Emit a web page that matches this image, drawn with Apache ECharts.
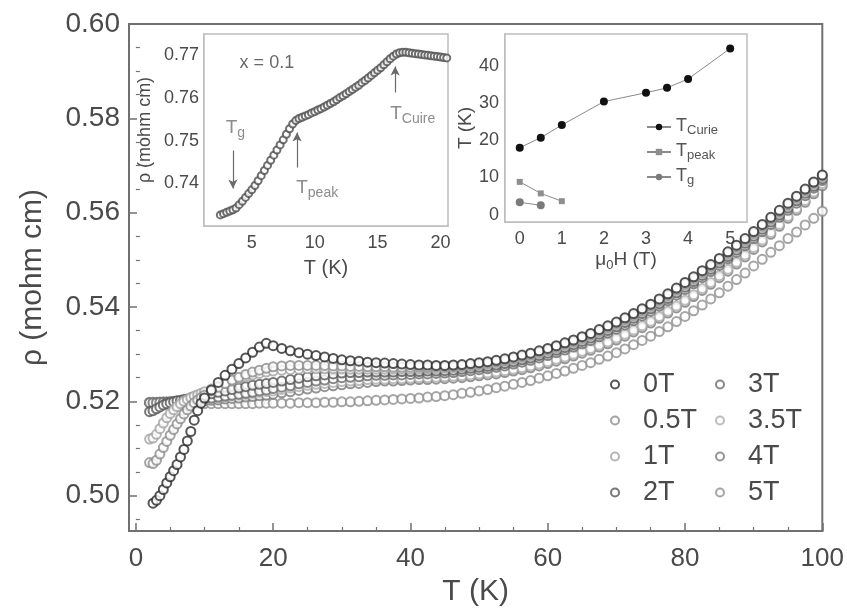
<!DOCTYPE html>
<html>
<head>
<meta charset="utf-8">
<script src="https://cdn.jsdelivr.net/npm/echarts@6/dist/echarts.min.js"></script>
<style>
  html, body { margin: 0; padding: 0; background: #fff; }
  #chart { width: 847px; height: 612px; }
</style>
</head>
<body>
<div id="chart"></div>
<script>
// Resistivity vs temperature at several applied fields
const TEMPS = [
  2, 2.5, 3, 3.5, 4, 4.5, 5, 5.5, 6, 6.5, 7, 7.5, 8, 8.5, 9, 9.5, 10,
  11, 12, 13, 14, 15, 16, 17, 18, 19, 20,
  21.25, 22.5, 23.75, 25, 26.25, 27.5, 28.75, 30, 31.25, 32.5, 33.75, 35, 36.25, 37.5, 38.75, 40,
  41.25, 42.5, 43.75, 45, 46.25, 47.5, 48.75, 50, 51.25, 52.5, 53.75, 55, 56.25, 57.5, 58.75, 60,
  61.25, 62.5, 63.75, 65, 66.25, 67.5, 68.75, 70, 71.25, 72.5, 73.75, 75, 76.25, 77.5, 78.75, 80,
  81.25, 82.5, 83.75, 85, 86.25, 87.5, 88.75, 90, 91.25, 92.5, 93.75, 95, 96.25, 97.5, 98.75, 100
];

const RHO_0T = [
  null, .4984, .4990, .5000, .5013, .5027, .5040, .5053, .5066, .5082, .5098, .5116, .5136, .5160, .5180, .5196, .5207,
  .5224, .5240, .5255, .5268, .5280, .5292, .5304, .5315, .5323, .5318,
  .5312, .5307, .5303, .5300, .5297, .5294, .5291, .5288, .5286, .5285, .5283, .5282, .5281, .5280, .5279, .5278,
  .5277, .5277, .5276, .5276, .5277, .5278, .5280, .5282, .5284, .5287, .5290, .5294, .5298, .5302, .5307, .5312,
  .5318, .5324, .5330, .5337, .5344, .5352, .5360, .5368, .5377, .5386, .5396, .5406, .5417, .5428, .5440, .5452,
  .5464, .5477, .5490, .5503, .5517, .5531, .5545, .5560, .5575, .5590, .5605, .5620, .5635, .5650, .5665, .5680
];
const RHO_05T = [
  .5070, .5068, .5075, .5088, .5102, .5115, .5128, .5140, .5152, .5163, .5173, .5182, .5190, .5197, .5203, .5208, .5213,
  .5222, .5230, .5238, .5245, .5251, .5257, .5262, .5266, .5270, .5273,
  .5275, .5276, .5276, .5276, .5276, .5276, .5275, .5275, .5274, .5274, .5273, .5273, .5273, .5272, .5272, .5272,
  .5272, .5272, .5273, .5273, .5274, .5275, .5277, .5279, .5281, .5284, .5287, .5291, .5295, .5299, .5304, .5309,
  .5315, .5321, .5327, .5334, .5341, .5349, .5357, .5365, .5374, .5383, .5393, .5403, .5414, .5425, .5437, .5449,
  .5461, .5474, .5487, .5500, .5514, .5528, .5542, .5557, .5572, .5587, .5602, .5617, .5632, .5647, .5663, .5678
];
const RHO_1T = [
  .5120, .5122, .5130, .5142, .5154, .5165, .5174, .5182, .5189, .5195, .5200, .5204, .5208, .5211, .5214, .5217, .5220,
  .5226, .5232, .5238, .5243, .5248, .5252, .5256, .5259, .5262, .5264,
  .5266, .5267, .5268, .5269, .5269, .5269, .5269, .5269, .5268, .5268, .5268, .5268, .5268, .5268, .5268, .5268,
  .5268, .5269, .5269, .5270, .5271, .5272, .5274, .5276, .5278, .5281, .5284, .5288, .5292, .5296, .5301, .5306,
  .5312, .5318, .5324, .5331, .5338, .5346, .5354, .5362, .5371, .5380, .5390, .5400, .5411, .5422, .5434, .5446,
  .5458, .5471, .5484, .5497, .5511, .5525, .5539, .5554, .5569, .5584, .5599, .5614, .5629, .5644, .5660, .5675
];
const RHO_2T = [
  .5178, .5180, .5184, .5188, .5192, .5195, .5197, .5199, .5201, .5202, .5204, .5205, .5207, .5208, .5210, .5211, .5213,
  .5216, .5219, .5222, .5225, .5228, .5231, .5234, .5236, .5238, .5240,
  .5243, .5246, .5249, .5252, .5254, .5256, .5258, .5260, .5261, .5261, .5262, .5262, .5262, .5262, .5263, .5263,
  .5263, .5264, .5264, .5265, .5266, .5268, .5270, .5272, .5274, .5277, .5280, .5284, .5288, .5292, .5297, .5302,
  .5308, .5314, .5320, .5327, .5334, .5342, .5350, .5358, .5367, .5376, .5386, .5396, .5407, .5418, .5430, .5442,
  .5454, .5467, .5480, .5493, .5507, .5521, .5535, .5550, .5565, .5580, .5595, .5610, .5625, .5641, .5656, .5672
];
const RHO_3T = [
  .5197, .5197, .5197, .5198, .5198, .5198, .5199, .5199, .5200, .5200, .5201, .5201, .5202, .5203, .5204, .5204, .5205,
  .5207, .5209, .5211, .5213, .5215, .5217, .5219, .5222, .5224, .5227,
  .5230, .5233, .5237, .5240, .5243, .5245, .5248, .5250, .5251, .5252, .5254, .5255, .5255, .5256, .5256, .5257,
  .5258, .5258, .5259, .5260, .5261, .5263, .5265, .5267, .5269, .5272, .5275, .5279, .5283, .5287, .5292, .5297,
  .5303, .5309, .5315, .5322, .5329, .5337, .5345, .5353, .5362, .5371, .5381, .5391, .5402, .5413, .5425, .5437,
  .5449, .5462, .5475, .5488, .5502, .5516, .5530, .5545, .5560, .5575, .5590, .5605, .5620, .5636, .5652, .5668
];
const RHO_35T = [
  .5198, .5198, .5198, .5198, .5199, .5199, .5199, .5200, .5200, .5200, .5201, .5201, .5201, .5202, .5202, .5203, .5203,
  .5205, .5207, .5209, .5211, .5213, .5215, .5217, .5219, .5221, .5222,
  .5225, .5228, .5231, .5234, .5236, .5238, .5240, .5242, .5243, .5244, .5246, .5247, .5247, .5248, .5248, .5249,
  .5250, .5250, .5251, .5252, .5253, .5254, .5256, .5258, .5260, .5262, .5265, .5268, .5271, .5275, .5279, .5284,
  .5289, .5294, .5300, .5306, .5312, .5319, .5326, .5334, .5342, .5351, .5360, .5370, .5380, .5391, .5402, .5414,
  .5426, .5439, .5452, .5466, .5480, .5495, .5510, .5526, .5542, .5558, .5575, .5592, .5609, .5626, .5644, .5662
];
const RHO_4T = [
  .5198, .5198, .5198, .5198, .5198, .5198, .5198, .5199, .5199, .5199, .5199, .5200, .5200, .5200, .5200, .5201, .5201,
  .5202, .5203, .5205, .5206, .5207, .5209, .5210, .5212, .5213, .5215,
  .5218, .5220, .5223, .5226, .5228, .5231, .5233, .5235, .5237, .5238, .5240, .5242, .5243, .5243, .5244, .5245,
  .5246, .5246, .5247, .5248, .5249, .5250, .5252, .5254, .5256, .5258, .5261, .5264, .5267, .5271, .5275, .5280,
  .5285, .5290, .5296, .5302, .5308, .5315, .5322, .5330, .5338, .5347, .5356, .5366, .5376, .5387, .5398, .5410,
  .5422, .5435, .5448, .5462, .5476, .5491, .5506, .5522, .5538, .5554, .5571, .5588, .5605, .5622, .5640, .5657
];
const RHO_5T = [
  .5196, .5196, .5196, .5196, .5196, .5195, .5195, .5195, .5195, .5195, .5195, .5195, .5195, .5195, .5195, .5195, .5195,
  .5195, .5195, .5195, .5195, .5195, .5195, .5195, .5196, .5196, .5196,
  .5196, .5196, .5197, .5197, .5197, .5198, .5198, .5199, .5199, .5200, .5201, .5202, .5203, .5204, .5205, .5206,
  .5207, .5209, .5210, .5212, .5214, .5217, .5219, .5222, .5225, .5229, .5232, .5236, .5240, .5244, .5249, .5254,
  .5259, .5264, .5270, .5276, .5282, .5289, .5296, .5303, .5311, .5320, .5329, .5338, .5348, .5358, .5369, .5380,
  .5392, .5404, .5417, .5430, .5444, .5458, .5472, .5487, .5501, .5516, .5530, .5545, .5559, .5574, .5588, .5603
];

const FIELD_NAMES = ['0T', '0.5T', '1T', '2T', '3T', '3.5T', '4T', '5T'];
const FIELD_COLORS = ['#2b2b2b', '#8c8c8c', '#a3a3a3', '#555555', '#6a6a6a', '#ababab', '#7a7a7a', '#8f8f8f'];
const FIELD_RHO = [RHO_0T, RHO_05T, RHO_1T, RHO_2T, RHO_3T, RHO_35T, RHO_4T, RHO_5T];

// Main axes ticks
const X_MAJOR = [0, 20, 40, 60, 80, 100];
const X_MINOR = [5, 10, 15, 25, 30, 35, 45, 50, 55, 65, 70, 75, 85, 90, 95];
const Y_MAJOR = [0.50, 0.52, 0.54, 0.56, 0.58, 0.60];
const Y_MINOR = [0.495, 0.505, 0.51, 0.515, 0.525, 0.53, 0.535, 0.545, 0.55, 0.555, 0.565, 0.57, 0.575, 0.585, 0.59, 0.595];

// Inset: x = 0.1 zero-field curve
const INSET_T = [
  2.5, 2.75, 3, 3.25, 3.5, 3.75, 4, 4.25, 4.5, 4.75,
  5, 5.25, 5.5, 5.75, 6, 6.25, 6.5, 6.75, 7, 7.25,
  7.5, 7.75, 8, 8.25, 8.5, 8.75, 9, 9.25, 9.5, 9.75,
  10, 10.25, 10.5, 10.75, 11, 11.25, 11.5, 11.75, 12, 12.25,
  12.5, 12.75, 13, 13.25, 13.5, 13.75, 14, 14.25, 14.5, 14.75,
  15, 15.25, 15.5, 15.75, 16, 16.25, 16.5, 16.75, 17, 17.25,
  17.5, 17.75, 18, 18.25, 18.5, 18.75, 19, 19.25, 19.5, 19.75,
  20, 20.25, 20.5
];
const INSET_RHO = [
  .7326, .7329, .7332, .7335, .7338, .7342, .7350, .7358, .7367, .7376,
  .7385, .7395, .7406, .7418, .7430, .7442, .7454, .7466, .7478, .7490,
  .7502, .7515, .7528, .7539, .7547, .7552, .7555, .7558, .7561, .7565,
  .7568, .7572, .7575, .7579, .7583, .7587, .7591, .7596, .7601, .7605,
  .7610, .7615, .7620, .7625, .7630, .7636, .7641, .7647, .7653, .7659,
  .7665, .7671, .7678, .7685, .7692, .7698, .7703, .7706, .7707, .7707,
  .7706, .7705, .7704, .7703, .7702, .7701, .7700, .7699, .7698, .7697,
  .7696, .7695, .7694
];
const INSET_X_MAJOR = [5, 10, 15, 20];
const INSET_X_MINOR = [2, 3, 4, 6, 7, 8, 9, 11, 12, 13, 14, 16, 17, 18, 19];
const INSET_Y_MAJOR = [0.74, 0.75, 0.76, 0.77];
const INSET_Y_MINOR = [0.735, 0.745, 0.755, 0.765];
// arrows: [T, from rho, to rho]
const ARROWS = [[3.5, 0.7477, 0.7388], [8.6, 0.7437, 0.7519], [16.4, 0.7613, 0.7674]];
// text notes: [T, rho, text]
const NOTES = [
  [6.2, 0.7681, '{n|x = 0.1}'],
  [3.7, 0.7526, '{t|T}{s|g}'],
  [10.2, 0.7386, '{t|T}{s|peak}'],
  [17.8, 0.7560, '{t|T}{s|Cuire}']
];

// Inset: characteristic temperatures vs field
const FIELD = [0, 0.5, 1, 2, 3, 3.5, 4, 5];
const T_CURIE = [18.0, 20.7, 24.1, 30.4, 32.8, 34.1, 36.5, 44.7];
const FIELD_PEAK = [0, 0.5, 1];
const T_PEAK = [8.8, 5.7, 3.6];
const FIELD_G = [0, 0.5];
const T_G = [3.3, 2.5];
const H_MAJOR = [0, 1, 2, 3, 4, 5];
const H_MINOR = [0.5, 1.5, 2.5, 3.5, 4.5];
const TK_MAJOR = [0, 10, 20, 30, 40];
const TK_MINOR = [5, 15, 25, 35, 45];

const FONT = 'Liberation Sans, Arial, Helvetica, sans-serif';
const TXT = '#4a4a4a';
const SUB_RICH = {
  t: { fontSize: 19, color: '#6f6f6f', fontFamily: FONT, lineHeight: 22, verticalAlign: 'top' },
  s: { fontSize: 14, color: '#6f6f6f', fontFamily: FONT, lineHeight: 16, verticalAlign: 'bottom', padding: [9, 0, 0, 0] },
  n: { fontSize: 18, color: '#444', fontFamily: FONT }
};

const pair = (xs, ys) => xs.map((x, i) => [x, ys[i]]);

function valueAxis(o) {
  return Object.assign({
    type: 'value',
    splitLine: { show: false },
    axisLine: { show: false },
    axisTick: { show: false },
    axisLabel: { show: false }
  }, o);
}
function majorX(grid, min, max, ticks, len, lineColor, lineW, fs, margin) {
  return valueAxis({
    gridIndex: grid, min, max, position: 'bottom',
    axisLine: { show: true, onZero: false, lineStyle: { color: lineColor, width: lineW } },
    axisTick: { show: true, inside: true, length: len, customValues: ticks, lineStyle: { color: lineColor, width: 1.5 } },
    axisLabel: { show: true, customValues: ticks, fontSize: fs, color: TXT, fontFamily: FONT, margin }
  });
}
function minorX(grid, min, max, ticks, len, lineColor) {
  return valueAxis({
    gridIndex: grid, min, max, position: 'bottom',
    axisTick: { show: true, inside: true, length: len, customValues: ticks, lineStyle: { color: lineColor, width: 1.2 } }
  });
}
function majorY(grid, min, max, ticks, len, lineColor, lineW, fs, margin, fmt) {
  return valueAxis({
    gridIndex: grid, min, max, position: 'left',
    axisLine: { show: true, onZero: false, lineStyle: { color: lineColor, width: lineW } },
    axisTick: { show: true, inside: true, length: len, customValues: ticks, lineStyle: { color: lineColor, width: 1.5 } },
    axisLabel: { show: true, customValues: ticks, fontSize: fs, color: TXT, fontFamily: FONT, margin, formatter: fmt }
  });
}
function minorY(grid, min, max, ticks, len, lineColor) {
  return valueAxis({
    gridIndex: grid, min, max, position: 'left',
    axisTick: { show: true, inside: true, length: len, customValues: ticks, lineStyle: { color: lineColor, width: 1.2 } }
  });
}

const xAxes = [
  majorX(0, -1, 100, X_MAJOR, 8, '#707070', 2, 26, 15),
  minorX(0, -1, 100, X_MINOR, 4, '#707070'),
  majorX(1, 1.2, 20.6, INSET_X_MAJOR, 6, '#b5b5b5', 1.5, 18, 8),
  minorX(1, 1.2, 20.6, INSET_X_MINOR, 3, '#b5b5b5'),
  majorX(2, -0.35, 5.4, H_MAJOR, 6, '#b5b5b5', 1.5, 18, 8),
  minorX(2, -0.35, 5.4, H_MINOR, 3, '#b5b5b5')
];
const yAxes = [
  majorY(0, 0.4925, 0.60, Y_MAJOR, 8, '#707070', 2, 28, 9, v => v.toFixed(2)),
  minorY(0, 0.4925, 0.60, Y_MINOR, 4, '#707070'),
  majorY(1, 0.730, 0.775, INSET_Y_MAJOR, 6, '#b5b5b5', 1.5, 18, 5, v => v.toFixed(2)),
  minorY(1, 0.730, 0.775, INSET_Y_MINOR, 3, '#b5b5b5'),
  majorY(2, -2, 48.6, TK_MAJOR, 6, '#b5b5b5', 1.5, 18, 6, v => String(v)),
  minorY(2, -2, 48.6, TK_MINOR, 3, '#b5b5b5')
];

// axis titles
Object.assign(xAxes[0], { name: 'T (K)', nameLocation: 'middle', nameGap: 43,
  nameTextStyle: { fontSize: 30, color: TXT, fontFamily: FONT } });
Object.assign(yAxes[0], { name: 'ρ (mohm cm)', nameLocation: 'middle', nameGap: 81,
  nameTextStyle: { fontSize: 30, color: TXT, fontFamily: FONT } });
Object.assign(xAxes[2], { name: 'T (K)', nameLocation: 'middle', nameGap: 32,
  nameTextStyle: { fontSize: 20, color: TXT, fontFamily: FONT } });
Object.assign(yAxes[2], { name: 'ρ (mohm cm)', nameLocation: 'middle', nameGap: 50,
  nameTextStyle: { fontSize: 18, color: TXT, fontFamily: FONT } });
Object.assign(xAxes[4], { name: '{a|μ}{b|0}{a|H (T)}', nameLocation: 'middle', nameGap: 28,
  nameTextStyle: { color: TXT, rich: {
    a: { fontSize: 19, color: TXT, fontFamily: FONT, lineHeight: 22, verticalAlign: 'top' },
    b: { fontSize: 13, color: TXT, fontFamily: FONT, lineHeight: 14, verticalAlign: 'bottom', padding: [10, 0, 0, 0] } } } });
Object.assign(yAxes[4], { name: 'T (K)', nameLocation: 'middle', nameGap: 27,
  nameTextStyle: { fontSize: 19, color: TXT, fontFamily: FONT } });

const series = [];
// draw high fields first so the zero-field curve sits on top
for (let k = FIELD_NAMES.length - 1; k >= 0; k--) {
  series.push({
    name: FIELD_NAMES[k],
    type: 'scatter',
    xAxisIndex: 0, yAxisIndex: 0,
    symbol: 'emptyCircle',
    symbolSize: 9,
    itemStyle: { color: FIELD_COLORS[k], borderWidth: 1.5 },
    data: pair(TEMPS, FIELD_RHO[k]).filter(p => p[1] !== null),
    z: 2
  });
}

series.push({
  name: 'x01',
  type: 'scatter',
  xAxisIndex: 2, yAxisIndex: 2,
  symbol: 'emptyCircle',
  symbolSize: 7,
  itemStyle: { color: '#4d4d4d', borderWidth: 1.2 },
  data: pair(INSET_T, INSET_RHO),
  z: 5,
  markLine: {
    silent: true,
    label: { show: false },
    lineStyle: { color: '#6a6a6a', width: 1.2, type: 'solid' },
    data: ARROWS.map(a => [
      { coord: [a[0], a[1]], symbol: 'none' },
      { coord: [a[0], a[2]], symbol: 'arrow', symbolSize: [7, 9] }
    ])
  }
});
series.push({
  name: 'notes',
  type: 'scatter',
  xAxisIndex: 2, yAxisIndex: 2,
  symbolSize: 0,
  silent: true,
  z: 6,
  data: NOTES.map(n => ({ value: [n[0], n[1]], label: { formatter: n[2] } })),
  label: { show: true, position: 'inside', rich: SUB_RICH }
});

const lineGray = '#8a8a8a';
series.push({
  name: 'TCurie', type: 'line', xAxisIndex: 4, yAxisIndex: 4,
  data: pair(FIELD, T_CURIE), symbol: 'circle', symbolSize: 8,
  itemStyle: { color: '#111' }, lineStyle: { color: lineGray, width: 1 }, z: 5
});
series.push({
  name: 'Tpeak', type: 'line', xAxisIndex: 4, yAxisIndex: 4,
  data: pair(FIELD_PEAK, T_PEAK), symbol: 'rect', symbolSize: 6,
  itemStyle: { color: '#8e8e8e' }, lineStyle: { color: lineGray, width: 1 }, z: 5
});
series.push({
  name: 'Tg', type: 'line', xAxisIndex: 4, yAxisIndex: 4,
  data: pair(FIELD_G, T_G), symbol: 'circle', symbolSize: 8,
  itemStyle: { color: '#7a7a7a' }, lineStyle: { color: lineGray, width: 1 }, z: 5
});

const legendText = { fontSize: 27, color: TXT, fontFamily: FONT };
const option = {
  animation: false,
  backgroundColor: '#fff',
  grid: [
    { left: 129, right: 24, top: 24, bottom: 81, show: true, borderColor: '#707070', borderWidth: 2, backgroundColor: 'transparent' },
    { left: 204, right: 399, top: 34, bottom: 386, show: true, borderColor: '#bdbdbd', borderWidth: 1.5, backgroundColor: '#fff', z: 3 },
    { left: 505, right: 100, top: 34, bottom: 390, show: true, borderColor: '#bdbdbd', borderWidth: 1.5, backgroundColor: '#fff', z: 3 }
  ],
  xAxis: xAxes,
  yAxis: yAxes,
  legend: [
    { data: FIELD_NAMES.slice(0, 4), orient: 'vertical', left: 605, top: 366,
      itemWidth: 46, itemHeight: 8, itemGap: 9, textStyle: legendText,
      itemStyle: { borderWidth: 1.5 } },
    { data: FIELD_NAMES.slice(4), orient: 'vertical', left: 710, top: 366,
      itemWidth: 46, itemHeight: 8, itemGap: 9, textStyle: legendText,
      itemStyle: { borderWidth: 1.5 } },
    { data: ['TCurie', 'Tpeak', 'Tg'], orient: 'vertical', left: 641, top: 110,
      itemWidth: 24, itemHeight: 8, itemGap: 3, z: 6,
      formatter: n => '{t|T}{s|' + n.slice(1) + '}',
      textStyle: { rich: {
        t: { fontSize: 18, color: '#555', fontFamily: FONT, lineHeight: 20, verticalAlign: 'top' },
        s: { fontSize: 13, color: '#555', fontFamily: FONT, lineHeight: 14, verticalAlign: 'bottom', padding: [9, 0, 0, 0] } } } }
  ],
  series
};

const chart = echarts.init(document.getElementById('chart'), null, { renderer: 'canvas' });
chart.setOption(option);
</script>
</body>
</html>
